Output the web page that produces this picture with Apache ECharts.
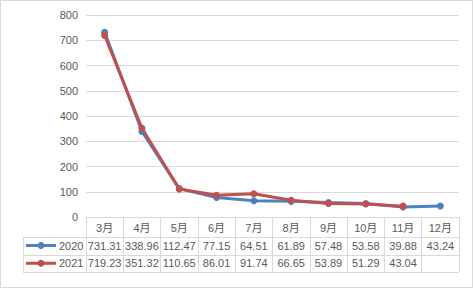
<!DOCTYPE html>
<html><head><meta charset="utf-8">
<script src="https://cdn.jsdelivr.net/npm/echarts@6/dist/echarts.min.js"></script>
<style>html,body{margin:0;padding:0;background:#fff}#c{width:474px;height:289px}</style>
</head><body><div id="c"></div>
<script>
var categories = ['3月','4月','5月','6月','7月','8月','9月','10月','11月','12月'];
var seriesNames = ['2020','2021'];
var values2020 = [731.31, 338.96, 112.47, 77.15, 64.51, 61.89, 57.48, 53.58, 39.88, 43.24];
var values2021 = [719.23, 351.32, 110.65, 86.01, 91.74, 66.65, 53.89, 51.29, 43.04, null];
var colors = ['#4F81BD', '#C0504D'];
var FONT = '"Liberation Sans","Noto Sans CJK SC",sans-serif';
var LINE = '#d9d9d9';
var TXT = '#595959';

var chart = echarts.init(document.getElementById('c'), null, {renderer:'svg', width:474, height:289});
var option = {
  animation:false,
  backgroundColor:'#fff',
  grid:{left:86, right:15, top:15, bottom:72},
  xAxis:{type:'category', data:categories, boundaryGap:true,
    axisLine:{lineStyle:{color:LINE}},
    axisTick:{show:true, length:55, lineStyle:{color:LINE}},
    axisLabel:{color:TXT, fontSize:11, fontFamily:FONT, margin:5}},
  yAxis:{type:'value', min:0, max:800, interval:100,
    axisLine:{show:false}, axisTick:{show:false},
    splitLine:{lineStyle:{color:LINE}},
    axisLabel:{color:TXT, fontSize:11, fontFamily:FONT, margin:8}},
  series:[
    {name:seriesNames[0], type:'line', data:values2020, symbol:'circle', symbolSize:7,
     itemStyle:{color:colors[0]}, lineStyle:{color:colors[0], width:3}},
    {name:seriesNames[1], type:'line', data:values2021, symbol:'circle', symbolSize:7,
     itemStyle:{color:colors[1]}, lineStyle:{color:colors[1], width:3}}
  ]
};
chart.setOption(option);

var xs = categories.map(function(c,i){ return chart.convertToPixel({xAxisIndex:0}, i); });
var band = xs[1]-xs[0];
var y0 = chart.convertToPixel({yAxisIndex:0}, 0);
var xRight = xs[xs.length-1] + band/2;
var xLeft = 23;
var rowH = [19.5, 37.5, 55];
var rows = [values2020, values2021];
var g = [];
g.push({type:'rect', shape:{x:0.5,y:0.5,width:472,height:287}, style:{fill:'none', stroke:LINE, lineWidth:1}, silent:true});
rowH.forEach(function(h){
  g.push({type:'line', shape:{x1:xLeft, y1:Math.round(y0+h)+0.5, x2:xRight, y2:Math.round(y0+h)+0.5}, style:{stroke:LINE, lineWidth:1}});
});
g.push({type:'line', shape:{x1:xLeft+0.5, y1:Math.round(y0+rowH[0])+0.5, x2:xLeft+0.5, y2:Math.round(y0+rowH[2])+0.5}, style:{stroke:LINE, lineWidth:1}});
rows.forEach(function(vals, r){
  var top = y0 + rowH[r], bot = y0 + rowH[r+1];
  var cy = (top+bot)/2;
  vals.forEach(function(v,i){
    if (v == null) return;
    g.push({type:'text', x:xs[i], y:cy, style:{text:v.toFixed(2), fill:TXT, font:'11px '+FONT, textAlign:'center', textVerticalAlign:'middle'}});
  });
  g.push({type:'line', shape:{x1:xLeft+3, y1:cy, x2:xLeft+33, y2:cy}, style:{stroke:colors[r], lineWidth:3}});
  g.push({type:'circle', shape:{cx:xLeft+18, cy:cy, r:3.5}, style:{fill:colors[r]}});
  g.push({type:'text', x:xLeft+36, y:cy, style:{text:seriesNames[r], fill:TXT, font:'11px '+FONT, textAlign:'left', textVerticalAlign:'middle'}});
});
chart.setOption({graphic:{elements:g}});
</script></body></html>
